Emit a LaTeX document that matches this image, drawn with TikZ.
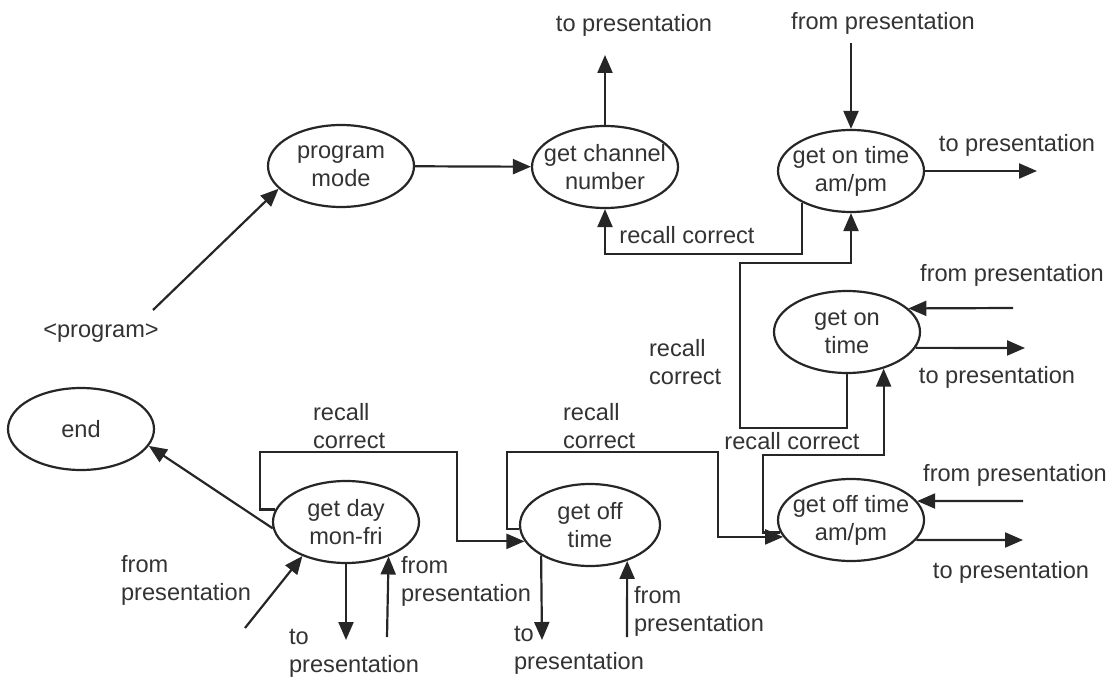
\documentclass[tikz,border=0pt]{standalone}
\usepackage{fontspec}
\setmainfont{Liberation Sans}
\usetikzlibrary{shapes.geometric,arrows.meta}

\begin{document}
\begin{tikzpicture}[x=0.5pt,y=-0.5pt,>={Triangle[length=9pt,width=7.5pt]},
  line width=1.1pt,draw=black!85,
  every node/.style={font=\fontsize{11.8}{14}\selectfont,text=black!80},
  bubble/.style={ellipse,draw=black!85,minimum width=73pt,minimum height=41pt,
    inner xsep=-8pt,inner ysep=0pt,align=center},
  lbl/.style={inner sep=0pt,align=left}]
\useasboundingbox (0,0) rectangle (1111,683);

% states
\node[bubble] (mode) at (341,166) {program\\mode};
\node[bubble] (chan) at (605,167) {get channel\\number};
\node[bubble] (onam) at (851,171) {get on time\\am/pm};
\node[bubble] (ontime) at (847,332) {get on\\time};
\node[bubble] (offam) at (851,520) {get off time\\am/pm};
\node[bubble,minimum width=70pt] (offtime) at (590,525) {get off\\time};
\node[bubble] (day) at (346,522) {get day\\mon-fri};
\node[bubble] (finish) at (81,429) {end};

% free ends
\coordinate (progin) at (153,310);
\coordinate (chanout) at (605,55);
\coordinate (onamin) at (851,43);
\coordinate (onamout) at (1037,171);
\coordinate (otin) at (1013,308);
\coordinate (otout) at (1025,348);
\coordinate (oain) at (1023,501);
\coordinate (oaout) at (1023,540);
\coordinate (ptin) at (245,628);
\coordinate (dayout) at (346,640);
\coordinate (dayin) at (387,637);
\coordinate (offtout) at (542,640);
\coordinate (offtin) at (627,637);

% connectors
\draw[->] (progin) -- (mode.200);
\draw[->] (mode) -- (chan);
\draw[->] (chan) -- (chanout);
\draw[->] (onamin) -- (onam);
\draw[->] (onam) -- (onamout);
\draw[->] (onam.213) -- ++(0,51) -| (chan.south);
\draw[->] (ontime.south) -- ++(0,54) -| (740,263) -| (onam.south);
\draw[->] (otin) -- (ontime.21);
\draw[->] (ontime.-13) -- (otout);
\draw[->] (offam.190) -| (763,455) -| (ontime.-45);
\draw[->] (oain) -- (offam.16);
\draw[->] (offam.-17) -- (oaout);
\draw[->] (offtime.183) -| (507,452) -| (718,500) |- (offam.194);
\draw[->] (day.170) -| (260,452) -| (457,500) |- (offtime.194);
\draw[->] (ptin) -- (day.218);
\draw[->] (day.185) -- (finish.-14);
\draw[->] (day) -- (dayout);
\draw[->] (dayin) -- (day.-39);
\draw[->] (offtime.212) -- (offtout);
\draw[->] (offtin) -- (offtime.-44);

% labels
\node (prog) at (101,333) {<program>};
\node (l1) at (634,25) {to presentation};
\node (l2) at (883,23) {from presentation};
\node (l3) at (1017,145) {to presentation};
\node (l4) at (687,235) {recall correct};
\node[lbl,anchor=west] (l5) at (648,362) {recall\\correct};
\node (l6) at (1012,275) {from presentation};
\node (l7) at (997,377) {to presentation};
\node (l8) at (792,441) {recall correct};
\node (l9) at (1015,475) {from presentation};
\node (l10) at (1011,572) {to presentation};
\node[lbl,anchor=west] (l11) at (312,426) {recall\\correct};
\node[lbl,anchor=west] (l12) at (562,426) {recall\\correct};
\node[lbl,anchor=west] (l13) at (120,580) {from\\presentation};
\node[lbl,anchor=west] (l14) at (288,653) {to\\presentation};
\node[lbl,anchor=west] (l15) at (400,581) {from\\presentation};
\node[lbl,anchor=west] (l16) at (513,650) {to\\presentation};
\node[lbl,anchor=west] (l17) at (633,611) {from\\presentation};
\end{tikzpicture}
\end{document}
